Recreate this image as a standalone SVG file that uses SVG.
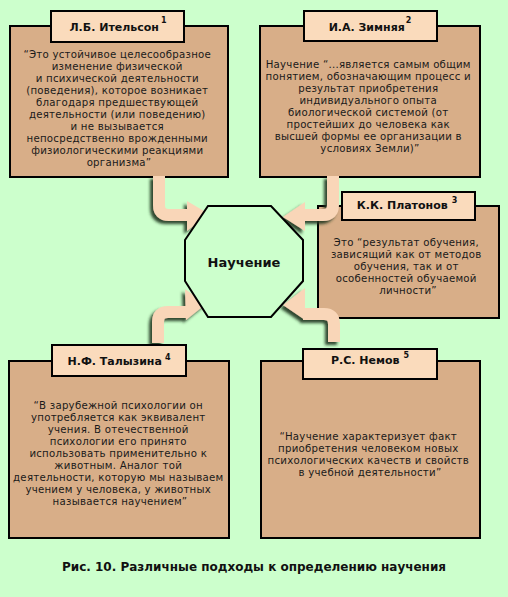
<svg xmlns="http://www.w3.org/2000/svg" width="508" height="597" viewBox="0 0 508 597">
<style>
.bg{fill:#CCFFCC}
.box{fill:#D8AE88;stroke:#000;stroke-width:2}
.hdr{fill:#FADBBC;stroke:#000;stroke-width:2}
.t{font-family:"DejaVu Sans","Noto Sans",sans-serif;font-size:10.2px;letter-spacing:0.25px;fill:#1a1a1a;text-anchor:middle}
.h{font-family:"DejaVu Sans","Noto Sans",sans-serif;font-size:11px;font-weight:bold;fill:#111;text-anchor:middle}
.sup{font-size:8px}
.bar{fill:none;stroke:#F9D6B8;stroke-width:12}
.head{fill:#F9D6B8}
.oct{fill:#CCFFCC;stroke:#000;stroke-width:2}
</style>
<defs>
<filter id="sh" x="-30%" y="-30%" width="160%" height="160%">
<feDropShadow dx="-3" dy="3" stdDeviation="1.6" flood-color="#1a351a" flood-opacity="0.9"/>
</filter>
</defs>
<rect class="bg" x="0" y="0" width="508" height="597"/>

<g id="itelson">
<rect class="box" x="10" y="26" width="218" height="151"/>
<rect class="hdr" x="51" y="11" width="133" height="31"/>
<text class="h" x="118" y="31">Л.Б. Ительсон<tspan class="sup" dx="2" dy="-8">1</tspan></text>
<text class="t">
<tspan x="119" y="57.5">“Это устойчивое целесообразное</tspan>
<tspan x="119" y="69.5">изменение физической</tspan>
<tspan x="119" y="81.5">и психической деятельности</tspan>
<tspan x="119" y="93.5">(поведения), которое возникает</tspan>
<tspan x="119" y="105.5">благодаря предшествующей</tspan>
<tspan x="119" y="117.5">деятельности (или поведению)</tspan>
<tspan x="119" y="129.5">и не вызывается</tspan>
<tspan x="119" y="141.5">непосредственно врожденными</tspan>
<tspan x="119" y="153.5">физиологическими реакциями</tspan>
<tspan x="119" y="165.5">организма”</tspan>
</text>
</g>

<g id="zimnyaya">
<rect class="box" x="260" y="26" width="220" height="151"/>
<rect class="hdr" x="304" y="11" width="133" height="30"/>
<text class="h" x="370" y="31">И.А. Зимняя<tspan class="sup" dx="1" dy="-8">2</tspan></text>
<text class="t">
<tspan x="370" y="67.5">Научение “...является самым общим</tspan>
<tspan x="370" y="79.5">понятием, обозначающим процесс и</tspan>
<tspan x="370" y="91.5">результат приобретения</tspan>
<tspan x="370" y="103.5">индивидуального опыта</tspan>
<tspan x="370" y="115.5">биологической системой (от</tspan>
<tspan x="370" y="127.5">простейших до человека как</tspan>
<tspan x="370" y="139.5">высшей формы ее организации в</tspan>
<tspan x="370" y="151.5">условиях Земли)”</tspan>
</text>
</g>

<g id="platonov">
<rect class="box" x="318" y="206" width="181" height="112"/>
<rect class="hdr" x="342" y="192" width="133" height="28"/>
<text class="h" x="407" y="209">К.К. Платонов<tspan class="sup" dx="4" dy="-6">3</tspan></text>
<text class="t">
<tspan x="408" y="245.5">Это “результат обучения,</tspan>
<tspan x="408" y="257.5">зависящий как от методов</tspan>
<tspan x="408" y="269.5">обучения, так и от</tspan>
<tspan x="408" y="281.5">особенностей обучаемой</tspan>
<tspan x="408" y="293.5">личности”</tspan>
</text>
</g>

<g id="connectors">
<g filter="url(#sh)">
<path class="bar" d="M159,176 V205 Q159,215 169,215 H189"/>
<polygon class="head" points="187,201 209,214 187,231"/>
</g>
<g filter="url(#sh)">
<path class="bar" d="M333,176 V205 Q333,215 323,215 H302"/>
<polygon class="head" points="305,202 283,217 305,231"/>
</g>
<g filter="url(#sh)">
<path class="bar" d="M158,343 V322 Q158,312 168,312 H188"/>
<polygon class="head" points="185,289 206,304 186,320"/>
</g>
<g filter="url(#sh)">
<path class="bar" d="M334,342 V324 Q334,314 324,314 H303"/>
<polygon class="head" points="305,288 283,305 305,320"/>
</g>
</g>

<g id="nauchenie">
<polygon class="oct" points="208,206 271,206 303,240 303,281 271,317 208,317 185,281 185,240"/>
<text class="h" x="244" y="267" style="font-size:13px">Научение</text>
</g>

<g id="talyzina">
<rect class="box" x="9" y="361" width="220" height="177"/>
<rect class="hdr" x="52" y="345" width="134" height="31"/>
<text class="h" x="119" y="365">Н.Ф. Талызина<tspan class="sup" dx="3" dy="-5">4</tspan></text>
<text class="t">
<tspan x="120" y="409">“В зарубежной психологии он</tspan>
<tspan x="120" y="421">употребляется как эквивалент</tspan>
<tspan x="120" y="433">учения. В отечественной</tspan>
<tspan x="120" y="445">психологии его принято</tspan>
<tspan x="120" y="457">использовать применительно к</tspan>
<tspan x="120" y="469">животным. Аналог той</tspan>
<tspan x="120" y="481">деятельности, которую мы называем</tspan>
<tspan x="120" y="493">учением у человека, у животных</tspan>
<tspan x="120" y="505">называется научением”</tspan>
</text>
</g>

<g id="nemov">
<rect class="box" x="261" y="361" width="219" height="177"/>
<rect class="hdr" x="303" y="349" width="134" height="30"/>
<text class="h" x="370" y="364">Р.С. Немов<tspan class="sup" dx="4" dy="-6">5</tspan></text>
<text class="t">
<tspan x="370" y="439.5">“Научение характеризует факт</tspan>
<tspan x="370" y="451.5">приобретения человеком новых</tspan>
<tspan x="370" y="463.5">психологических качеств и свойств</tspan>
<tspan x="370" y="475.5">в учебной деятельности”</tspan>
</text>
</g>

<text class="h" x="254" y="571" style="font-size:12px">Рис. 10. Различные подходы к определению научения</text>
</svg>
